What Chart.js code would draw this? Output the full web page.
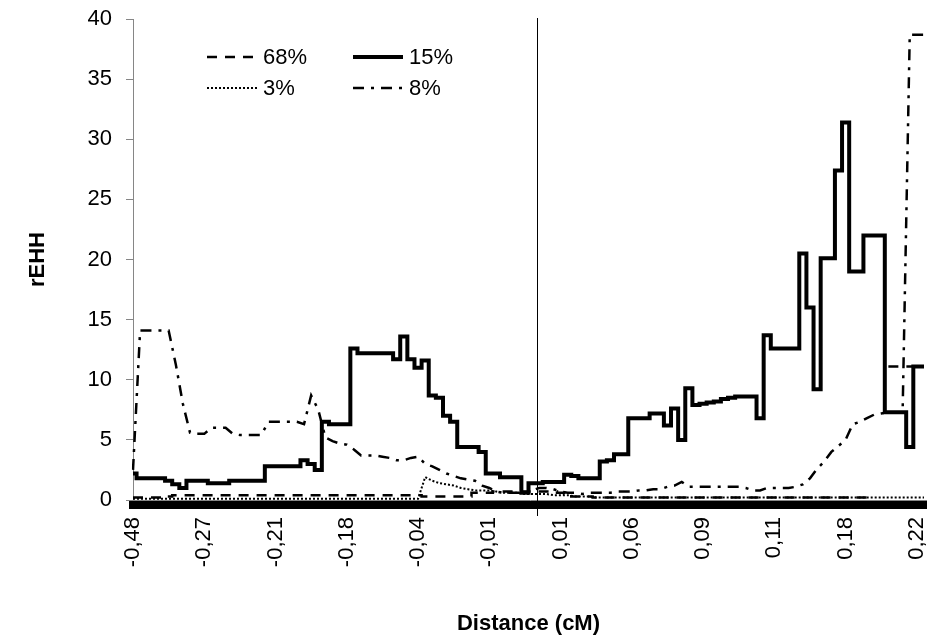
<!DOCTYPE html>
<html>
<head>
<meta charset="utf-8">
<script src="https://cdn.jsdelivr.net/npm/chart.js@4"></script>
<style>
  html, body { margin: 0; padding: 0; background: #fff; }
  #wrap { width: 927px; height: 643px; }
</style>
</head>
<body>
<div id="wrap"><canvas id="c" width="927" height="643"></canvas></div>
<script>
// Distance labels shown on the axis (one every ten markers)
const tickLabels = ['-0,48', '-0,27', '-0,21', '-0,18', '-0,04', '-0,01',
                    '0,01', '0,06', '0,09', '0,11', '0,18', '0,22'];
const markersPerLabel = 10;
const markerCount = 112;
// Position of the core SNP on the marker axis
const coreSnpIndex = 56.75;

const seriesNames = ['68%', '15%', '3%', '8%'];

// rEHH values per marker, one array per core haplotype
const rehh68 = [
  0.2, 0.2, 0.2, 0.2, 0.2, 0.3, 0.4, 0.4, 0.4, 0.4,
  0.4, 0.4, 0.4, 0.4, 0.4, 0.4, 0.4, 0.4, 0.4, 0.4,
  0.4, 0.4, 0.4, 0.4, 0.4, 0.4, 0.4, 0.4, 0.4, 0.4,
  0.4, 0.4, 0.4, 0.4, 0.4, 0.4, 0.4, 0.4, 0.4, 0.4,
  0.4, 0.3, 0.3, 0.3, 0.3, 0.3, 0.3, 0.3, 0.6, 0.6,
  0.6, 0.7, 0.7, 0.7, 0.7, 0.7, 0.7, 0.7, 0.7, 0.7,
  0.6, 0.5, 0.3, 0.3, 0.3, 0.2, 0.2, 0.2, 0.2, 0.2,
  0.2, 0.2, 0.2, 0.2, 0.2, 0.2, 0.2, 0.2, 0.2, 0.2,
  0.2, 0.2, 0.2, 0.2, 0.2, 0.2, 0.2, 0.2, 0.2, 0.2,
  0.2, 0.2, 0.2, 0.2, 0.2, 0.2, 0.2, 0.2, 0.2, 0.2,
  0.2, 0.2, 0.2, 0.2, 0.2, null, 11.1, 11.1, 11.1, 11.1,
  11.1, 11.1
];
const rehh15 = [
  2.2, 1.8, 1.8, 1.8, 1.8, 1.6, 1.3, 1.0, 1.6, 1.6,
  1.6, 1.4, 1.4, 1.4, 1.6, 1.6, 1.6, 1.6, 1.6, 2.8,
  2.8, 2.8, 2.8, 2.8, 3.3, 3.0, 2.5, 6.5, 6.3, 6.3,
  6.3, 12.6, 12.2, 12.2, 12.2, 12.2, 12.2, 11.7, 13.6, 11.7,
  11.0, 11.6, 8.7, 8.5, 7.0, 6.5, 4.4, 4.4, 4.4, 4.0,
  2.2, 2.2, 1.9, 1.9, 1.9, 0.6, 1.4, 1.4, 1.5, 1.5,
  1.5, 2.1, 2.0, 1.8, 1.8, 1.8, 3.2, 3.3, 3.8, 3.8,
  6.8, 6.8, 6.8, 7.2, 7.2, 6.2, 7.6, 5.0, 9.3, 7.9,
  8.0, 8.1, 8.2, 8.4, 8.5, 8.6, 8.6, 8.6, 6.8, 13.7,
  12.6, 12.6, 12.6, 12.6, 20.5, 16.0, 9.2, 20.1, 20.1, 27.4,
  31.4, 19.0, 19.0, 22.0, 22.0, 22.0, 7.3, 7.3, 7.3, 4.4,
  11.1, 11.1
];
const rehh3 = [
  0.1, 0.1, 0.1, 0.1, 0.1, 0.1, 0.1, 0.1, 0.1, 0.1,
  0.1, 0.1, 0.1, 0.1, 0.1, 0.1, 0.1, 0.1, 0.1, 0.1,
  0.1, 0.1, 0.1, 0.1, 0.1, 0.1, 0.1, 0.1, 0.1, 0.1,
  0.1, 0.1, 0.1, 0.1, 0.1, 0.1, 0.1, 0.1, 0.1, 0.1,
  0.1, 1.9, 1.6, 1.4, 1.3, 1.2, 1.0, 0.9, 0.8, 0.8,
  0.8, 0.7, 0.6, 0.6, 0.6, 0.5, 0.5, 0.5, 0.5, 0.4,
  0.4, 0.4, 0.3, 0.3, 0.3, 0.2, 0.2, 0.2, 0.2, 0.2,
  0.2, 0.2, 0.2, 0.2, 0.2, 0.2, 0.2, 0.2, 0.2, 0.2,
  0.2, 0.2, 0.2, 0.2, 0.2, 0.2, 0.2, 0.2, 0.2, 0.2,
  0.2, 0.2, 0.2, 0.2, 0.2, 0.2, 0.2, 0.2, 0.2, 0.2,
  0.2, 0.2, 0.2, 0.2, 0.2, 0.2, 0.2, 0.2, 0.2, 0.2,
  0.2, 0.2
];
const rehh8 = [
  2.5, 14.1, 14.1, 14.1, 14.1, 14.1, 11.3, 8.0, 5.6, 5.5,
  5.5, 6.0, 6.0, 6.0, 5.5, 5.4, 5.4, 5.4, 5.4, 6.5,
  6.5, 6.5, 6.5, 6.5, 6.3, 8.7, 7.5, 5.2, 4.9, 4.7,
  4.6, 4.2, 3.7, 3.7, 3.7, 3.6, 3.5, 3.3, 3.3, 3.5,
  3.6, 3.0, 2.8, 2.5, 2.2, 2.0, 1.8, 1.7, 1.6, 1.2,
  1.0, 0.7, 0.6, 0.6, 0.6, 0.6, 0.8, 1.0, 1.0, 0.9,
  0.7, 0.6, 0.6, 0.5, 0.6, 0.6, 0.6, 0.6, 0.7, 0.7,
  0.7, 0.8, 0.8, 0.9, 0.9, 1.1, 1.2, 1.5, 1.1, 1.1,
  1.1, 1.1, 1.1, 1.1, 1.1, 1.1, 1.0, 0.8, 0.8, 1.0,
  1.0, 1.0, 1.0, 1.1, 1.3, 1.8, 2.6, 3.2, 4.0, 4.5,
  5.0, 6.3, 6.5, 6.8, 7.1, 7.2, 7.3, 7.3, 7.3, 38.7,
  38.7, 38.7
];

// Category list: every tenth marker carries a distance label
const categories = [];
for (let i = 0; i < markerCount; i++) {
  categories.push(i % markersPerLabel === 0 && tickLabels[i / markersPerLabel] !== undefined
    ? tickLabels[i / markersPerLabel] : '');
}

const FONT = "'Liberation Sans', Arial, sans-serif";

const lineStyle = (label, data, width, dash, order, stepped) => ({
  label, data,
  borderColor: '#000', backgroundColor: '#000',
  borderWidth: width, borderDash: dash, borderCapStyle: 'butt',
  borderJoinStyle: 'miter', stepped,
  pointRadius: 0, pointHoverRadius: 0, tension: 0, fill: false,
  spanGaps: false, order
});

// Two-column legend placed inside the plot area, plus the core SNP marker line
const overlay = {
  id: 'overlay',
  afterDatasetsDraw(chart) {
    const { ctx, scales } = chart;
    const x = Math.round(scales.x.getPixelForValue(coreSnpIndex)) + 0.5;
    ctx.save();
    ctx.strokeStyle = '#000';
    ctx.lineWidth = 1;
    ctx.beginPath();
    ctx.moveTo(x, scales.y.getPixelForValue(40) - 1);
    ctx.lineTo(x, chart.chartArea.bottom + 16);
    ctx.stroke();

    const rows = [[0, 1], [2, 3]];
    const colX = [207, 353];
    const rowY = [57, 88];
    const sampleLen = 50;
    ctx.font = '22px ' + FONT;
    ctx.textBaseline = 'middle';
    ctx.fillStyle = '#000';
    rows.forEach((row, r) => {
      row.forEach((dsIndex, c) => {
        const ds = chart.data.datasets[dsIndex];
        ctx.save();
        ctx.strokeStyle = '#000';
        ctx.lineWidth = ds.borderWidth;
        ctx.lineCap = 'butt';
        ctx.setLineDash(ds.borderDash || []);
        ctx.beginPath();
        ctx.moveTo(colX[c], rowY[r]);
        ctx.lineTo(colX[c] + sampleLen, rowY[r]);
        ctx.stroke();
        ctx.restore();
        ctx.fillText(ds.label, colX[c] + sampleLen + 6, rowY[r] + 1);
      });
    });
    ctx.restore();
  }
};

new Chart(document.getElementById('c'), {
  type: 'line',
  data: {
    labels: categories,
    datasets: [
      lineStyle(seriesNames[0], rehh68, 2.5, [10, 8], 2, 'middle'),
      lineStyle(seriesNames[1], rehh15, 4, [], 0, 'middle'),
      lineStyle(seriesNames[2], rehh3, 2, [2, 2], 3, false),
      lineStyle(seriesNames[3], rehh8, 2.5, [11, 7, 3, 7], 1, false)
    ]
  },
  options: {
    responsive: false,
    devicePixelRatio: 1,
    animation: false,
    events: [],
    layout: { padding: { top: 19, right: 3, left: 0, bottom: 0 } },
    plugins: { legend: { display: false }, tooltip: { enabled: false } },
    scales: {
      x: {
        type: 'category',
        offset: false,
        grid: { display: true, drawOnChartArea: false, drawTicks: true,
                tickLength: 9, color: '#000', lineWidth: 8 },
        border: { display: true, color: '#868686', width: 1 },
        ticks: { autoSkip: false, maxRotation: 90, minRotation: 90, padding: 8,
                 color: '#000', font: { family: FONT, size: 22 } },
        title: { display: true, text: 'Distance (cM)', color: '#000',
                 font: { family: FONT, size: 22, weight: 'bold' },
                 padding: { top: 6, bottom: 6 } },
        afterFit(s) {
          s.height = 143;
          s.paddingLeft = 0; s.paddingRight = 0; s.paddingTop = 0; s.paddingBottom = 0;
        }
      },
      y: {
        min: 0, max: 40,
        grid: { display: true, drawOnChartArea: false, drawTicks: true,
                tickLength: 7, color: '#868686', lineWidth: 1 },
        border: { display: true, color: '#868686', width: 1 },
        ticks: { stepSize: 5, padding: 14, color: '#000',
                 font: { family: FONT, size: 22 } },
        title: { display: true, text: 'rEHH', color: '#000',
                 font: { family: FONT, size: 22, weight: 'bold' },
                 padding: { top: 25, bottom: 25 } },
        afterFit(s) {
          s.width = 133;
          s.paddingTop = 0; s.paddingBottom = 0; s.paddingLeft = 0; s.paddingRight = 0;
        }
      }
    }
  },
  plugins: [overlay]
});
</script>
</body>
</html>
